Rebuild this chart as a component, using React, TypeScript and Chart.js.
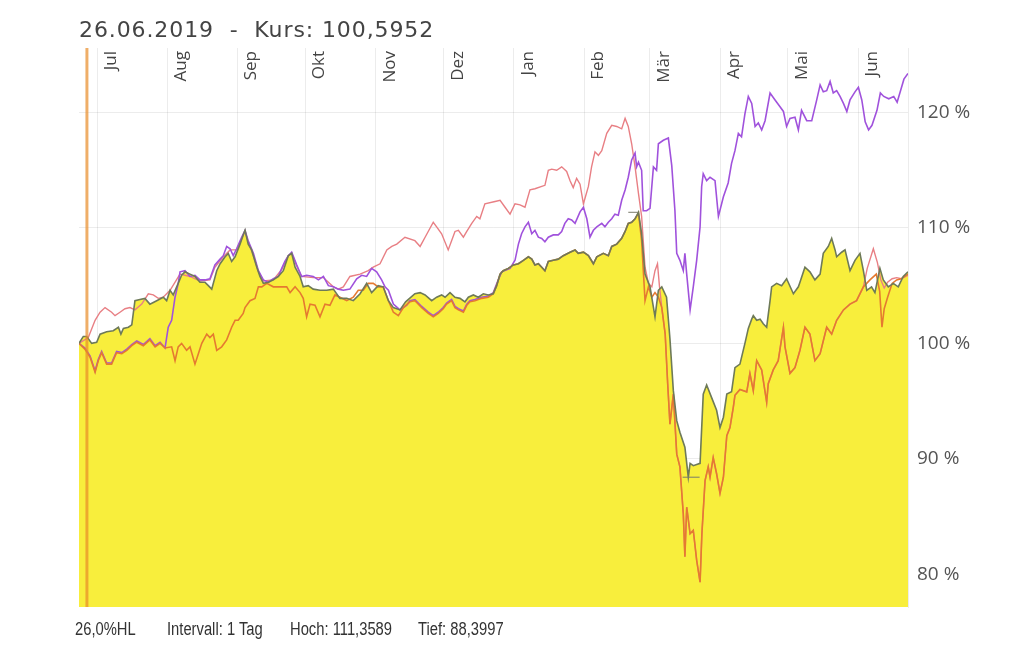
import React, { useEffect, useRef } from 'react';
import { Chart, registerables } from 'chart.js';

Chart.register(...registerables);

// x values are calendar days counted from 23.06.2019
const monthDays = [8, 39, 70, 100, 131, 161, 192, 223, 252, 283, 313, 344];
const monthLabels = ['Jul', 'Aug', 'Sep', 'Okt', 'Nov', 'Dez', 'Jan', 'Feb', 'Mär', 'Apr', 'Mai', 'Jun'];
const yTicks = [80, 90, 100, 110, 120];
const Y_MIN = 77.15;
const Y_MAX = 125.6;
const X_MAX = 366;

const titleText = '26.06.2019  -  Kurs: 100,5952';
const footerTexts = ['26,0%HL', 'Intervall: 1 Tag', 'Hoch: 111,3589', 'Tief: 88,3997'];

const cursorDays = [3.5, 3.5];
const cursorValues = [Y_MIN, Y_MAX];
const highDays = [242.5, 247];
const highValues = [111.36, 111.36];
const lowDays = [266.5, 274];
const lowValues = [88.4, 88.4];

const fundDays = [
  0, 1.9, 3.4, 5.6, 7.8, 9.3, 12.2, 15.1, 17.4, 18.5, 19.6, 21.8, 23.3, 24.7, 26.9, 29.1, 31.3, 34.3, 37.2, 38.7,
  40.2, 41.6, 43.8, 45.3, 46.8, 49, 51.2, 53.4, 55.6, 57.1, 58.6, 60.8, 62.3, 64.5, 65.9, 67.4, 68.9, 71.1, 72.5, 73.3,
  74.7, 76.2, 78.5, 79.9, 81.4, 83.6, 85.8, 88, 90.2, 92.4, 93.9, 95.4, 97.6, 99, 101.2, 103.4, 106.4, 109.4, 112.3, 115.2,
  118.2, 121.1, 124.1, 127, 129.2, 132.1, 134.3, 136.6, 138.8, 141.7, 144.2, 148.3, 150.6, 152.8, 155.7, 157.9, 160.1, 161.6, 163.8, 166,
  168.2, 170.4, 171.9, 174.1, 176.3, 178.5, 180.7, 182.9, 184.4, 185.9, 187.3, 189.5, 191.8, 194, 196.2, 198.4, 199.9, 201.3, 202.8, 204.3,
  205.7, 207.2, 209.4, 211.6, 213.8, 216.8, 219, 220.4, 222.7, 224.9, 227.1, 228.6, 231.5, 233.7, 235.2, 237.4, 239.6, 241.1, 242.5, 244,
  245.5, 247, 248.4, 249.9, 252.1, 254.3, 255.8, 257.3, 259.4, 260.9, 262.4, 263.9, 265.3, 267.5, 269, 269.8, 271.2, 274.2, 275.6, 277.1,
  279.3, 281.5, 283, 284.5, 286, 288.1, 289.6, 291.8, 294, 295.5, 297, 297.7, 299.2, 300.7, 302.1, 303.6, 305.1, 305.8, 308, 310.2,
  312.4, 315.4, 317.6, 318.3, 320.5, 322.7, 324.9, 327.2, 328.6, 330.8, 332.3, 333.8, 334.5, 336.7, 338.2, 340.4, 342.6, 344.8, 346.3, 347.8,
  349.9, 351.4, 353.6, 355.1, 357.3, 359.5, 361.7, 363.9, 366
];
const fundValues = [
  100.0, 100.6, 100.6, 100.0, 100.1, 100.8, 101.0, 101.1, 101.4, 100.8, 101.3, 101.4, 101.6, 103.7, 103.8, 103.9, 103.4, 103.7, 104.0, 103.7,
  104.6, 104.2, 105.2, 105.9, 106.2, 106.0, 105.8, 105.3, 105.3, 105.0, 104.7, 106.3, 106.9, 107.5, 107.8, 107.1, 107.5, 108.6, 109.4, 109.8,
  108.6, 108.1, 106.6, 105.8, 105.2, 105.3, 105.5, 105.8, 106.3, 107.6, 107.8, 106.6, 105.8, 104.9, 105.0, 104.7, 104.6, 104.6, 104.7, 103.9,
  103.9, 103.7, 104.3, 105.2, 104.4, 105.0, 104.9, 103.7, 103.1, 102.9, 103.6, 104.3, 104.4, 104.2, 103.7, 104.0, 104.2, 104.0, 104.4, 104.0,
  103.9, 103.6, 104.0, 104.2, 104.0, 104.3, 104.2, 104.3, 105.0, 106.0, 106.3, 106.5, 106.8, 106.9, 107.2, 107.5, 107.3, 106.8, 106.9, 106.6,
  106.3, 107.1, 107.2, 107.3, 107.6, 107.9, 108.1, 107.8, 107.9, 107.6, 106.9, 107.5, 107.8, 107.6, 108.4, 108.6, 109.1, 109.7, 110.4, 110.5,
  110.8, 111.36, 109.5, 106.0, 104.9, 102.3, 104.6, 104.9, 104.0, 100.4, 95.9, 93.3, 92.3, 91.0, 88.4, 89.6, 89.4, 89.6, 95.6, 96.4,
  95.3, 94.2, 92.7, 93.6, 95.6, 95.8, 97.9, 98.2, 100.0, 101.3, 102.1, 102.4, 102.0, 102.1, 101.7, 101.4, 103.7, 104.9, 105.2, 105.0,
  105.6, 104.3, 104.9, 105.3, 106.6, 106.2, 105.5, 106.0, 107.8, 108.4, 109.1, 108.1, 107.5, 107.9, 108.1, 106.3, 107.2, 107.8, 106.3, 104.6,
  104.9, 104.4, 106.5, 105.5, 104.9, 105.2, 104.9, 105.8, 106.2
];

const orangeDays = [
  0, 2.6, 4.9, 7.1, 8.5, 10, 12.2, 14.4, 16.6, 18.9, 21.1, 23.3, 25.5, 28.4, 31.3, 33.6, 35.8, 38, 40.9, 42.4,
  43.8, 45.3, 47.5, 49, 51.2, 52.7, 54.2, 56.4, 57.8, 59.3, 60.8, 63, 65.2, 67.4, 68.9, 70.3, 72.5, 73.3, 75.5, 77.7,
  79.2, 80.7, 82.9, 85.8, 88.7, 91.7, 93.2, 95.4, 97.6, 99, 100.5, 102, 104.2, 106.4, 108.6, 110.8, 113, 115.2, 118.2, 121.1,
  123.3, 125.5, 127.7, 129.9, 132.1, 134.3, 136.6, 138.8, 141, 143.2, 146.1, 148.3, 151.3, 154.2, 156.4, 158.6, 160.8, 162.3, 164.5, 166,
  167.5, 169.7, 171.2, 172.6, 174.8, 177.8, 180.7, 182.9, 184.4, 185.9, 187.3, 189.5, 191.8, 194, 196.2, 198.4, 199.9, 201.3, 202.8, 204.3,
  205.7, 207.2, 209.4, 211.6, 213.8, 216.8, 219, 220.4, 222.7, 224.9, 227.1, 228.6, 231.5, 233.7, 235.2, 237.4, 239.6, 241.1, 242.5, 244,
  245.5, 247, 248.4, 249.9, 251.4, 252.9, 254.3, 255.8, 257.3, 258.8, 259.9, 260.9, 262.4, 263.9, 265.3, 266.8, 267.5, 268.3, 269.8, 271.2,
  272.7, 274.2, 275, 276.4, 277.8, 278.6, 280, 281.5, 283, 284.5, 286, 287.4, 288.9, 289.6, 291.8, 294.8, 296.2, 297.7, 299.2, 301.4,
  303.6, 304.3, 306.5, 308.7, 311, 311.7, 313.9, 316.1, 318.3, 320.5, 322.7, 324.9, 327.2, 330.1, 332.3, 334.5, 337.5, 340.4, 343.3, 346.3,
  349.2, 352, 353.5, 354.5, 355.5, 357, 359, 361, 363, 366
];
const orangeValues = [
  100.0, 99.5, 98.8, 97.5, 98.5, 99.2, 98.2, 98.2, 99.2, 99.1, 99.4, 99.8, 100.1, 99.8, 100.3, 99.7, 100.0, 99.6, 99.7, 98.5,
  99.7, 100.0, 99.4, 99.7, 98.2, 99.1, 100.0, 100.8, 100.5, 100.8, 99.4, 99.7, 100.3, 101.4, 102.0, 102.0, 102.6, 103.1, 103.7, 103.9,
  104.9, 104.9, 105.2, 104.9, 104.9, 104.9, 104.4, 104.9, 104.4, 103.9, 102.3, 103.4, 103.3, 102.3, 103.4, 103.3, 104.2, 104.0, 103.7, 104.0,
  104.6, 104.6, 105.2, 105.2, 104.9, 104.9, 103.7, 102.7, 102.4, 103.1, 103.6, 103.7, 103.1, 102.6, 102.3, 102.6, 103.0, 103.4, 103.7, 103.1,
  102.9, 102.7, 103.3, 103.6, 103.7, 103.9, 104.0, 104.3, 105.0, 106.0, 106.3, 106.5, 106.8, 106.9, 107.2, 107.5, 107.3, 106.8, 106.9, 106.6,
  106.3, 107.1, 107.2, 107.3, 107.6, 107.9, 108.1, 107.8, 107.9, 107.6, 106.9, 107.5, 107.8, 107.6, 108.4, 108.6, 109.1, 109.7, 110.4, 110.5,
  110.8, 111.3, 108.9, 103.7, 104.9, 104.0, 104.4, 104.0, 103.1, 100.8, 96.5, 93.0, 95.6, 90.4, 89.3, 85.2, 81.5, 85.8, 83.5, 83.8,
  81.2, 79.3, 83.5, 88.1, 89.3, 88.4, 90.1, 88.7, 87.0, 88.4, 92.0, 92.7, 94.5, 95.5, 96.0, 95.8, 97.4, 95.9, 98.5, 97.7,
  94.9, 96.5, 97.7, 98.5, 101.4, 99.7, 97.4, 97.9, 99.4, 101.4, 100.8, 98.5, 99.1, 101.4, 100.8, 102.0, 102.9, 103.4, 103.7, 104.9,
  105.5, 106.0, 104.5, 101.4, 103.0, 104.0, 105.2, 105.5, 105.6, 106.0
];

const purpleDays = [
  0, 2.6, 4.9, 7.1, 8.5, 10, 12.2, 14.4, 16.6, 18.9, 21.1, 23.3, 25.5, 28.4, 31.3, 33.6, 35.8, 38, 39.4, 40.9,
  42.4, 43.8, 44.6, 46.8, 49, 51.2, 53.4, 55.6, 57.8, 60, 62.3, 63.7, 65.2, 66.7, 68.1, 69.6, 71.8, 73.3, 74.7, 77,
  79.2, 81.4, 83.6, 85.8, 88, 89.5, 90.9, 92.4, 93.9, 96.1, 98.3, 100.5, 103.4, 105.7, 107.9, 110.1, 112.3, 114.5, 116.7, 119.6,
  122.6, 124.8, 127, 129.2, 131.4, 133.6, 135.1, 136.6, 138.8, 141.7, 144.7, 146.1, 148.3, 151.3, 154.2, 156.4, 158.6, 160.8, 162.3, 164.5,
  166, 167.5, 169.7, 171.2, 172.6, 174.8, 177.8, 180.7, 182.9, 185.1, 186.6, 190.3, 192.5, 194, 195.4, 196.9, 198.4, 199.9, 201.3, 202.8,
  204.3, 205.7, 207.2, 209.4, 211.6, 213.1, 214.5, 216, 217.5, 219, 221.2, 222.7, 224.2, 225.6, 227.1, 228.6, 230.8, 232.2, 233.7, 235.2,
  236.6, 238.1, 239.6, 241.1, 242.5, 244, 245.5, 246.2, 247, 248.4, 249.1, 250.6, 252.1, 253.6, 255, 255.8, 258, 260.2, 261.7, 263.1,
  263.9, 265.3, 266.8, 267.5, 268.3, 269.8, 271.2, 272.7, 274.2, 274.9, 275.6, 277.1, 278.6, 280.8, 282.3, 284.5, 286.6, 288.1, 289.6, 291.1,
  292.5, 294, 295.5, 297, 298.5, 299.9, 301.4, 302.9, 305.1, 307.3, 309.5, 311, 312.4, 313.9, 316.1, 317.6, 319, 321.3, 323.5, 325.7,
  327.2, 328.6, 330.1, 331.6, 333, 334.5, 336, 337.5, 339, 340.4, 342.6, 344.1, 345.6, 347.1, 348.6, 350.1, 352.3, 353.8, 355.3, 357.5,
  359.7, 361.2, 362.7, 364.2, 366
];
const purpleValues = [
  100.0, 99.6, 98.9, 97.6, 98.6, 99.3, 98.3, 98.3, 99.3, 99.2, 99.5, 99.9, 100.2, 99.9, 100.4, 99.8, 100.1, 99.6, 101.4, 102.0,
  104.0, 105.2, 106.2, 106.3, 105.8, 105.9, 105.5, 105.5, 105.6, 106.8, 107.3, 107.6, 108.4, 108.2, 107.6, 108.2, 109.2, 109.8, 108.9, 107.8,
  106.3, 105.5, 105.3, 105.6, 105.8, 106.5, 107.1, 107.6, 107.9, 106.8, 105.8, 105.9, 105.8, 105.5, 105.8, 105.0, 104.9, 104.7, 104.6, 104.7,
  105.6, 105.9, 105.8, 106.5, 106.2, 105.5, 104.9, 104.6, 103.4, 102.9, 103.3, 103.7, 103.8, 103.2, 102.7, 102.4, 102.7, 103.1, 103.5, 103.8,
  103.2, 103.0, 102.8, 103.4, 103.7, 103.8, 104.0, 104.1, 104.4, 105.5, 106.2, 106.5, 107.2, 108.6, 109.5, 110.1, 110.5, 109.5, 109.8, 109.2,
  109.1, 108.8, 109.2, 109.4, 109.4, 109.7, 110.4, 110.8, 110.7, 110.4, 111.4, 111.8, 110.8, 109.2, 109.8, 110.1, 110.4, 110.1, 110.5, 110.8,
  111.2, 111.1, 112.4, 113.3, 114.4, 115.9, 116.5, 115.3, 115.7, 115.0, 111.5, 111.5, 111.7, 115.3, 115.0, 117.3, 117.6, 117.8, 115.4, 111.5,
  107.8, 107.2, 106.3, 107.8, 106.0, 102.9, 104.9, 107.2, 110.1, 113.6, 114.7, 114.1, 114.4, 114.1, 111.0, 112.7, 113.9, 115.6, 116.7, 118.2,
  117.9, 119.9, 121.4, 120.8, 118.8, 119.1, 118.5, 119.3, 121.7, 121.1, 120.5, 120.1, 118.8, 119.5, 119.6, 118.5, 120.2, 119.3, 119.3, 121.1,
  122.4, 121.8, 121.9, 122.7, 121.7, 121.9, 121.4, 120.8, 120.1, 121.1, 121.8, 122.2, 121.1, 119.2, 118.5, 118.9, 120.2, 121.7, 121.4, 121.2,
  121.4, 120.9, 121.9, 122.9, 123.4
];

const pinkDays = [
  0, 4.1, 7.1, 9.3, 11.5, 14.4, 15.9, 18.1, 20.3, 22.5, 24.7, 27.7, 30.6, 32.8, 35, 37.2, 40.2, 44.6, 49, 53.4,
  57.8, 60, 63.7, 66.7, 69.6, 73.3, 74.7, 77, 79.2, 81.4, 85.8, 89.5, 92.4, 93.9, 96.1, 98.3, 103.4, 107.9, 112.3, 114.5,
  116.7, 119.6, 124.1, 127.7, 129.9, 132.9, 135.9, 138.1, 140.3, 143.9, 148.3, 150.6, 152.8, 156.4, 157.9, 160.1, 163, 164.5, 166, 167.5,
  169.7, 171.2, 173.4, 175.6, 177, 179.2, 183.7, 185.9, 188.1, 190.3, 192.5, 194.7, 196.9, 199.1, 201.3, 204.3, 205.7, 207.2, 208.7, 210.9,
  213.1, 215.3, 216.8, 218.2, 219.7, 221.2, 222.7, 224.9, 226.3, 227.8, 229.3, 230.8, 233, 235.2, 237.4, 239.6, 241.1, 242.5, 244, 245.5,
  247, 248.4, 249.9, 251.4, 252.9, 254.3, 255.4, 256.3, 257.3, 258.8, 259.9, 260.9, 262.4, 263.9, 265.3, 266.8, 267.5, 268.3, 269.8, 271.2,
  272.7, 274.2, 275, 276.4, 277.8, 278.6, 280, 281.5, 283, 284.5, 286, 287.4, 288.9, 289.6, 291.8, 294.8, 296.2, 297.7, 299.2, 301.4,
  303.6, 304.3, 306.5, 308.7, 311, 311.7, 313.9, 316.1, 318.3, 320.5, 322.7, 324.9, 327.2, 330.1, 332.3, 334.5, 337.5, 340.4, 343.3, 346.3,
  348, 350.7, 352.5, 354, 355.5, 357, 359, 361, 363, 366
];
const pinkValues = [
  100.0, 100.5, 102.0, 102.7, 103.1, 102.7, 102.4, 102.7, 103.0, 103.1, 102.9, 103.4, 104.3, 104.2, 103.9, 104.0, 104.6, 106.0, 105.8, 105.4,
  105.5, 106.6, 107.5, 108.1, 108.1, 109.7, 108.8, 107.6, 106.2, 105.4, 105.5, 106.4, 107.6, 107.8, 106.7, 105.8, 105.7, 105.7, 104.9, 104.7,
  104.9, 105.8, 106.0, 106.3, 106.6, 106.9, 108.1, 108.4, 108.6, 109.2, 108.9, 108.4, 109.2, 110.5, 110.1, 109.5, 108.1, 108.9, 109.7, 109.8,
  109.2, 109.7, 110.4, 111.0, 110.8, 112.1, 112.3, 112.4, 111.8, 111.2, 112.1, 112.0, 111.8, 113.3, 113.4, 113.6, 113.7, 115.0, 115.1, 115.0,
  115.3, 114.9, 114.1, 113.5, 114.3, 113.8, 112.1, 113.6, 115.3, 116.6, 116.3, 116.7, 118.2, 118.9, 118.8, 118.6, 119.5, 118.8, 117.3, 115.3,
  113.0, 111.0, 106.6, 105.2, 104.9, 106.3, 106.9, 104.9, 103.1, 100.8, 96.5, 93.0, 95.6, 90.4, 89.3, 85.2, 81.5, 85.8, 83.5, 83.8,
  81.2, 79.3, 83.5, 88.1, 89.3, 88.4, 90.1, 88.7, 87.0, 88.4, 92.0, 92.7, 94.5, 95.5, 96.0, 95.8, 97.4, 95.9, 98.5, 97.7,
  94.9, 96.5, 97.7, 98.5, 101.4, 99.7, 97.4, 97.9, 99.4, 101.4, 100.8, 98.5, 99.1, 101.4, 100.8, 102.0, 102.9, 103.4, 103.7, 104.9,
  106.5, 108.2, 107.0, 105.5, 104.8, 105.3, 105.6, 105.7, 105.6, 105.9
];

const toPoints = (days: number[], values: number[]) => days.map((d, i) => ({ x: d, y: values[i] }));

const monthLabelPlugin = {
  id: 'monthLabels',
  afterDraw(chart: any) {
    const { ctx, chartArea } = chart;
    const xScale = chart.scales.x;
    ctx.save();
    ctx.font = '17px "Open Sans", sans-serif';
    ctx.fillStyle = '#444';
    ctx.textAlign = 'right';
    ctx.textBaseline = 'middle';
    monthDays.forEach((d, i) => {
      const px = xScale.getPixelForValue(d);
      ctx.save();
      ctx.translate(px + 14, chartArea.top + 3);
      ctx.rotate(-Math.PI / 2);
      ctx.fillText(monthLabels[i], 0, 0);
      ctx.restore();
    });
    ctx.restore();
  },
};

const line = (data: any, color: string, width: number) => ({
  data,
  borderColor: color,
  borderWidth: width,
  pointRadius: 0,
  pointHoverRadius: 0,
  tension: 0,
  fill: false,
});

export default function App() {
  const canvasRef = useRef<HTMLCanvasElement | null>(null);

  useEffect(() => {
    if (!canvasRef.current) return;
    const gridColor = 'rgba(0,0,0,0.075)';
    const chart = new Chart(canvasRef.current, {
      type: 'line',
      data: {
        datasets: [
          { label: 'Cursor', ...line(toPoints(cursorDays, cursorValues), 'rgba(232,140,40,0.7)', 3) },
          { label: 'Hoch', ...line(toPoints(highDays, highValues), '#7a7a6a', 1) },
          { label: 'Tief', ...line(toPoints(lowDays, lowValues), '#7a7a6a', 1) },
          {
            label: 'Fonds',
            ...line(toPoints(fundDays, fundValues), '#6e7a58', 1.6),
            fill: 'start',
            backgroundColor: '#f8ee3c',
          },
          { label: 'Orange', ...line(toPoints(orangeDays, orangeValues), '#e57a30', 1.6) },
          { label: 'Lila', ...line(toPoints(purpleDays, purpleValues), '#a052dc', 1.6) },
          { label: 'Rosa', ...line(toPoints(pinkDays, pinkValues), '#e87f84', 1.4) },
        ],
      },
      options: {
        animation: false,
        responsive: false,
        events: [],
        layout: { padding: { left: 79, top: 48, bottom: 41, right: 0 } },
        plugins: {
          legend: { display: false },
          tooltip: { enabled: false },
          title: { display: false },
          filler: { drawTime: 'beforeDatasetsDraw' },
        } as any,
        scales: {
          x: {
            type: 'linear',
            position: 'bottom',
            min: 0,
            max: X_MAX,
            z: 1,
            afterBuildTicks: (scale: any) => {
              scale.ticks = monthDays.map((v) => ({ value: v }));
            },
            afterFit: (scale: any) => {
              scale.height = 0;
            },
            ticks: { display: false },
            grid: { color: gridColor, drawTicks: false, lineWidth: 1 },
            border: { display: false },
          },
          y: {
            type: 'linear',
            position: 'right',
            min: Y_MIN,
            max: Y_MAX,
            z: 1,
            afterBuildTicks: (scale: any) => {
              scale.ticks = yTicks.map((v) => ({ value: v }));
            },
            afterFit: (scale: any) => {
              scale.width = 116;
            },
            ticks: {
              padding: 9,
              color: '#555',
              font: { family: '"Open Sans", sans-serif', size: 19 },
              callback: (v: any) => `${v} %`,
            },
            grid: { color: gridColor, drawTicks: false, lineWidth: 1 },
            border: { display: true, color: gridColor },
          },
        },
      } as any,
      plugins: [monthLabelPlugin],
    });
    return () => chart.destroy();
  }, []);

  const footerLefts = [75, 167, 290, 418];

  return (
    <div style={{ position: 'absolute', left: 0, top: 0, width: 1024, height: 648, background: '#fff', overflow: 'hidden' }}>
      <canvas ref={canvasRef} width={1024} height={648} style={{ display: 'block', width: 1024, height: 648 }} />
      <div
        style={{
          position: 'absolute',
          left: 79,
          top: 17,
          fontFamily: '"DejaVu Sans", sans-serif',
          fontSize: 22,
          letterSpacing: '0.9px',
          lineHeight: '26px',
          color: '#444',
          whiteSpace: 'pre',
        }}
      >
        {titleText}
      </div>
      {footerTexts.map((t, i) => (
        <div
          key={t}
          style={{
            position: 'absolute',
            left: footerLefts[i],
            top: 620,
            fontFamily: '"Liberation Sans", Arial, sans-serif',
            fontSize: 18,
            lineHeight: '18px',
            color: '#333',
            whiteSpace: 'pre',
            transform: 'scaleX(0.82)',
            transformOrigin: 'left center',
          }}
        >
          {t}
        </div>
      ))}
    </div>
  );
}
